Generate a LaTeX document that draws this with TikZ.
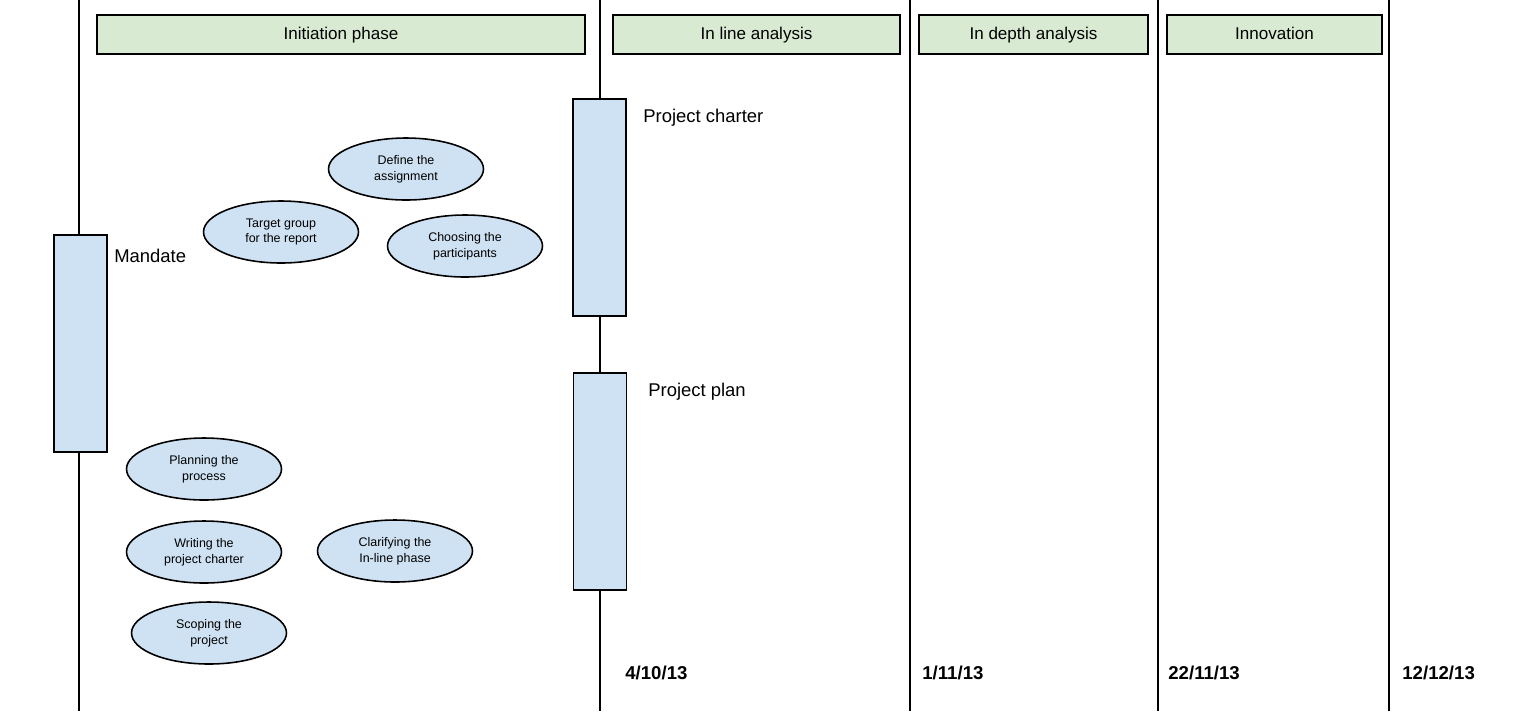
\documentclass[tikz,border=0pt]{standalone}
\usepackage{fontspec}
\setmainfont{Liberation Sans}
\usetikzlibrary{shapes.geometric,positioning}
\definecolor{phasegreen}{RGB}{217,234,211}
\definecolor{taskblue}{RGB}{207,226,243}

\begin{document}
\begin{tikzpicture}[x=0.02cm,y=-0.02cm,
 phase/.style={draw=black,fill=phasegreen,line width=0.9pt,minimum height=0.78cm,inner sep=0pt,text height=0.72em,text depth=0.2em,font=\fontsize{9.7}{11}\selectfont},
 milestone/.style={draw=black,fill=taskblue,line width=0.9pt,minimum width=1.06cm,minimum height=4.34cm,inner sep=0pt},
 task/.style={ellipse,draw=black,fill=taskblue,line width=0.9pt,minimum width=3.1cm,minimum height=1.24cm,inner sep=0pt,align=center,font=\fontsize{7.1}{9}\selectfont},
 lbl/.style={anchor=west,inner sep=0pt,font=\fontsize{10.5}{12}\selectfont},
 datelbl/.style={anchor=west,inner sep=0pt,font=\bfseries\fontsize{10.6}{12}\selectfont},
 axis/.style={line width=1.1pt}]
\useasboundingbox (0,0) rectangle (1523,711);
% time axes
\foreach \x in {79,600,910,1158,1389} {
  \coordinate (top\x) at (\x,0);
  \coordinate (bot\x) at (\x,711);
  \draw[axis] (top\x) -- (bot\x);
}
% phases
\node[phase,minimum width=9.76cm] (init) at (341,34.5) {Initiation phase};
\node[phase,minimum width=5.74cm] (inline) at (756.5,34.5) {In line analysis};
\node[phase,minimum width=4.58cm] (indepth) at (1033.5,34.5) {In depth analysis};
\node[phase,minimum width=4.3cm] (innov) at (1274.5,34.5) {Innovation};
% milestones
\node[milestone] (mandate) at (80.5,343.5) {};
\node[lbl] (mandatelbl) at (114,256) {Mandate};
\node[milestone] (charter) at (599.5,207.5) {};
\node[lbl] (charterlbl) at (643,118) {Project charter};
\node[milestone] (plan) at (600,481.5) {};
\node[lbl] (planlbl) at (648,392) {Project plan};
% tasks
\node[task] (define) at (406,169) {Define the\\assignment};
\node[task] (target) at (281,232) {Target group\\for the report};
\node[task] (choose) at (465,246) {Choosing the\\participants};
\node[task] (planning) at (204,469) {Planning the\\process};
\node[task] (writing) at (204,552) {Writing the\\project charter};
\node[task] (clarify) at (395,551) {Clarifying the\\In-line phase};
\node[task] (scoping) at (209,633) {Scoping the\\project};
% dates
\node[datelbl] (d1) at (625,673) {4/10/13};
\node[datelbl] (d2) at (922,673) {1/11/13};
\node[datelbl] (d3) at (1168,673) {22/11/13};
\node[datelbl] (d4) at (1402,673) {12/12/13};
\end{tikzpicture}
\end{document}
